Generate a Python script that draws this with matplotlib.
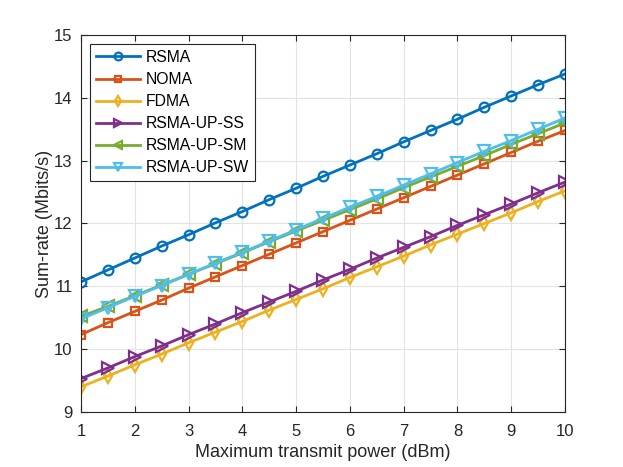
import numpy as np
import matplotlib
matplotlib.use("Agg")
import matplotlib.pyplot as plt

plt.rcParams['font.family'] = ['Liberation Sans', 'DejaVu Sans']

power = np.arange(1, 10.01, 0.5)

rsma = [11.07, 11.26, 11.45, 11.64, 11.82, 12.01, 12.19, 12.38, 12.56, 12.75,
        12.93, 13.11, 13.30, 13.48, 13.66, 13.85, 14.03, 14.21, 14.38]
noma = [10.23, 10.42, 10.60, 10.78, 10.97, 11.15, 11.33, 11.51, 11.69, 11.87,
        12.05, 12.23, 12.41, 12.59, 12.77, 12.95, 13.13, 13.31, 13.48]
fdma = [9.40, 9.57, 9.75, 9.92, 10.10, 10.27, 10.44, 10.62, 10.79, 10.96,
        11.14, 11.31, 11.48, 11.66, 11.83, 12.00, 12.17, 12.35, 12.52]
up_ss = [9.53, 9.70, 9.88, 10.05, 10.23, 10.40, 10.58, 10.75, 10.92, 11.10,
         11.27, 11.45, 11.62, 11.79, 11.97, 12.14, 12.31, 12.49, 12.66]
up_sm = [10.52, 10.68, 10.85, 11.02, 11.19, 11.36, 11.53, 11.71, 11.88, 12.05,
         12.22, 12.39, 12.57, 12.74, 12.91, 13.08, 13.26, 13.43, 13.60]
up_sw = [10.48, 10.66, 10.84, 11.01, 11.19, 11.37, 11.54, 11.72, 11.90, 12.08,
         12.26, 12.43, 12.61, 12.79, 12.97, 13.15, 13.32, 13.50, 13.68]

# name, values, marker, marker size, colour (MATLAB default order)
series = [
    ("RSMA", rsma, "o", 7, (0, 0.447, 0.741)),
    ("NOMA", noma, "s", 5.5, (0.85, 0.325, 0.098)),
    ("FDMA", fdma, "d", 7, (0.929, 0.694, 0.125)),
    ("RSMA-UP-SS", up_ss, ">", 8, (0.494, 0.184, 0.556)),
    ("RSMA-UP-SM", up_sm, "<", 8, (0.466, 0.674, 0.188)),
    ("RSMA-UP-SW", up_sw, "v", 8, (0.301, 0.745, 0.933)),
]

fig = plt.figure(figsize=(6.23, 4.67), dpi=100)
ax = fig.add_axes([0.130, 0.118, 0.777, 0.807])

for name, vals, mk, ms, col in series:
    ax.plot(power, vals, color=col, marker=mk, markersize=ms, mfc='none',
            mew=1.6, lw=2, label=name)

ax.set_xlim(1, 10)
ax.set_ylim(9, 15)
ax.set_xticks(range(1, 11))
ax.set_yticks(range(9, 16))
ax.grid(True, color='#e3e3e3', lw=0.8)
ax.set_axisbelow(True)
ax.tick_params(direction='in', labelsize=12, length=4, top=True, right=True,
               colors='#262626')
ax.tick_params(axis='x', pad=9)
ax.tick_params(axis='y', pad=6)
for s in ax.spines.values():
    s.set_color('#262626')
    s.set_linewidth(0.8)
ax.set_xlabel('Maximum transmit power (dBm)', fontsize=13, color='#262626',
              labelpad=3)
ax.set_ylabel('Sum-rate (Mbits/s)', fontsize=13, color='#262626', labelpad=1)

leg = ax.legend(loc='upper left', fontsize=11.3, fancybox=False, framealpha=1,
                edgecolor='#262626', handlelength=2.8, borderaxespad=0.6,
                labelspacing=0.45, markerscale=0.8, borderpad=0.35,
                handletextpad=0.4)
leg.get_frame().set_linewidth(0.8)

fig.savefig('out.png', dpi=100)
